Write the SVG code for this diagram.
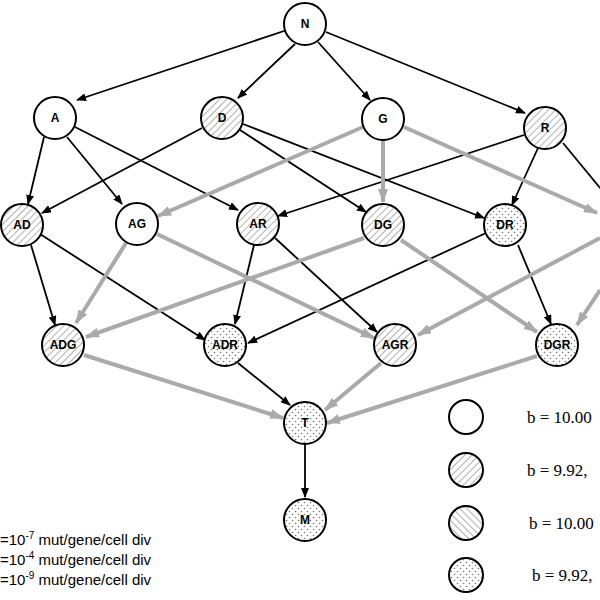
<svg xmlns="http://www.w3.org/2000/svg" width="600" height="600" viewBox="0 0 600 600">
<style>
.n{stroke:#000;stroke-width:2}
.b{stroke:#000;stroke-width:1.8;fill:none;marker-end:url(#ab)}
.g{stroke:#aaa;stroke-width:4;fill:none;marker-end:url(#ag)}
.t{font-family:"Liberation Sans",Arial,sans-serif;font-size:12px;font-weight:bold;text-anchor:middle;dominant-baseline:central}
.l{font-family:"Liberation Serif",serif;font-size:17px}
.m{font-family:"Liberation Sans",Arial,sans-serif;font-size:15px}
</style>
<defs>
<marker id="ab" markerWidth="10" markerHeight="8" refX="9" refY="4" orient="auto" markerUnits="userSpaceOnUse"><path d="M0,0L10,4L0,8z" fill="#000"/></marker>
<marker id="ag" markerWidth="14" markerHeight="10" refX="13" refY="5" orient="auto" markerUnits="userSpaceOnUse"><path d="M0,0L14,5L0,10z" fill="#aaa"/></marker>
<pattern id="h1" width="5" height="5" patternUnits="userSpaceOnUse" patternTransform="rotate(45)"><rect width="5" height="5" fill="#fff"/><line x1="0" y1="0" x2="0" y2="5" stroke="#666" stroke-width="1"/></pattern>
<pattern id="h2" width="5" height="5" patternUnits="userSpaceOnUse" patternTransform="rotate(-45)"><rect width="5" height="5" fill="#fff"/><line x1="0" y1="0" x2="0" y2="5" stroke="#666" stroke-width="1"/></pattern>
<pattern id="dt" width="6" height="6" patternUnits="userSpaceOnUse"><rect width="6" height="6" fill="#fff"/><circle cx="1.5" cy="1.5" r="0.8" fill="#777"/><circle cx="4.5" cy="4.5" r="0.8" fill="#777"/></pattern>
</defs>
<g id="connectors">
<path class="b" d="M287,30L77,100"/>
<path class="b" d="M295,44L238,98"/>
<path class="b" d="M318,42L370,100"/>
<path class="b" d="M326,32L525,113"/>
<path class="b" d="M44,137L28,204"/>
<path class="b" d="M67,137L122,204"/>
<path class="b" d="M75,127L238,210"/>
<path class="b" d="M202,128L42,213"/>
<path class="b" d="M240,130L366,212"/>
<path class="b" d="M243,124L484,218"/>
<path class="b" d="M524,135L278,216"/>
<path class="b" d="M538,148L512,205"/>
<path class="b" d="M563,143L610,200"/>
<path class="b" d="M31,245L55,325"/>
<path class="b" d="M40,234L205,340"/>
<path class="b" d="M254,245L235,324"/>
<path class="b" d="M275,238L377,332"/>
<path class="b" d="M486,233L248,343"/>
<path class="b" d="M518,245L551,324"/>
<path class="b" d="M238,363L290,405"/>
<path class="b" d="M305,444L305,497"/>
<path class="g" d="M363,127L158,216"/>
<path class="g" d="M383,140L383,202"/>
<path class="g" d="M404,127L597,213"/>
<path class="g" d="M126,243L76,323"/>
<path class="g" d="M157,234L374,338"/>
<path class="g" d="M364,238L86,337"/>
<path class="g" d="M401,240L537,332"/>
<path class="g" d="M600,238L418,335"/>
<path class="g" d="M600,290L577,325"/>
<path class="g" d="M84,355L283,418"/>
<path class="g" d="M381,363L325,410"/>
<path class="g" d="M537,356L327,423"/>
</g>
<g id="N"><circle class="n" cx="305" cy="24" r="21" fill="#fff"/><text class="t" x="305" y="24">N</text></g>
<g id="A"><circle class="n" cx="55" cy="118" r="21" fill="#fff"/><text class="t" x="55" y="118">A</text></g>
<g id="D"><circle class="n" cx="222" cy="118" r="21" fill="url(#h1)"/><text class="t" x="222" y="118">D</text></g>
<g id="G"><circle class="n" cx="383" cy="119" r="21" fill="#fff"/><text class="t" x="383" y="119">G</text></g>
<g id="R"><circle class="n" cx="545" cy="128" r="21" fill="url(#h1)"/><text class="t" x="545" y="128">R</text></g>
<g id="AD"><circle class="n" cx="22" cy="225" r="21" fill="url(#h1)"/><text class="t" x="22" y="225">AD</text></g>
<g id="AG"><circle class="n" cx="137" cy="224" r="21" fill="#fff"/><text class="t" x="137" y="224">AG</text></g>
<g id="AR"><circle class="n" cx="258" cy="224" r="21" fill="url(#h1)"/><text class="t" x="258" y="224">AR</text></g>
<g id="DG"><circle class="n" cx="383" cy="225" r="21" fill="url(#h1)"/><text class="t" x="383" y="225">DG</text></g>
<g id="DR"><circle class="n" cx="505" cy="225" r="21" fill="url(#dt)"/><text class="t" x="505" y="225">DR</text></g>
<g id="ADG"><circle class="n" cx="63" cy="345" r="21" fill="url(#h1)"/><text class="t" x="63" y="345">ADG</text></g>
<g id="ADR"><circle class="n" cx="225" cy="345" r="21" fill="url(#dt)"/><text class="t" x="225" y="345">ADR</text></g>
<g id="AGR"><circle class="n" cx="395" cy="345" r="21" fill="url(#h1)"/><text class="t" x="395" y="345">AGR</text></g>
<g id="DGR"><circle class="n" cx="557" cy="345" r="21" fill="url(#dt)"/><text class="t" x="557" y="345">DGR</text></g>
<g id="T"><circle class="n" cx="305" cy="423" r="21" fill="url(#dt)"/><text class="t" x="305" y="423">T</text></g>
<g id="M"><circle class="n" cx="305" cy="520" r="21" fill="url(#dt)"/><text class="t" x="305" y="520">M</text></g>
<g id="legend">
<circle class="n" cx="466" cy="417" r="17" fill="#fff"/><text class="l" x="527" y="423">b = 10.00</text>
<circle class="n" cx="466" cy="470" r="17" fill="url(#h1)"/><text class="l" x="527" y="476">b = 9.92,</text>
<circle class="n" cx="466" cy="523" r="17" fill="url(#h2)"/><text class="l" x="529" y="529">b = 10.00</text>
<circle class="n" cx="466" cy="575" r="17" fill="url(#dt)"/><text class="l" x="532" y="581">b = 9.92,</text>
<text class="m" x="0" y="545">=10<tspan dy="-6" font-size="10">-7</tspan><tspan dy="6"> mut/gene/cell div</tspan></text>
<text class="m" x="0" y="565">=10<tspan dy="-6" font-size="10">-4</tspan><tspan dy="6"> mut/gene/cell div</tspan></text>
<text class="m" x="0" y="585">=10<tspan dy="-6" font-size="10">-9</tspan><tspan dy="6"> mut/gene/cell div</tspan></text>
</g>
</svg>
